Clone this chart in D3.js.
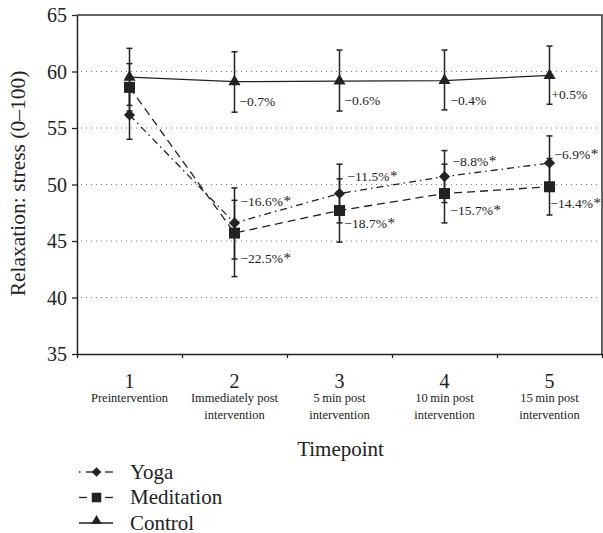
<!DOCTYPE html>
<html lang="en">
<head>
    <meta charset="UTF-8">
    <title>Relaxation: stress by timepoint</title>
    <script src="https://d3js.org/d3.v7.min.js"></script>
    <style>
        body { margin: 0; background: #fff; }
        text { font-family: "Liberation Serif", "DejaVu Serif", serif; fill: #222; }
    </style>
</head>
<body>
    <svg id="chart" width="603" height="533"></svg>

    <script>
        // Datos
        const timepoints = ["1", "2", "3", "4", "5"];
        const timepointNames = [
            ["Preintervention"],
            ["Immediately post", "intervention"],
            ["5\u2009min post", "intervention"],
            ["10\u2009min post", "intervention"],
            ["15\u2009min post", "intervention"]
        ];
        const yTicks = [35, 40, 45, 50, 55, 60, 65];

        const yoga = [56.15, 46.6, 49.2, 50.7, 51.9];
        const yogaLow = [54.0, 43.4, 46.6, 48.4, 49.5];
        const yogaHigh = [58.3, 49.7, 51.8, 53.0, 54.3];
        const yogaChange = ["", "\u221216.6%", "\u221211.5%", "\u22128.8%", "\u22126.9%"];

        const meditation = [58.6, 45.7, 47.7, 49.2, 49.8];
        const meditationLow = [56.5, 41.85, 44.9, 46.6, 47.3];
        const meditationHigh = [60.7, 48.6, 50.5, 51.8, 52.3];
        const meditationChange = ["", "\u221222.5%", "\u221218.7%", "\u221215.7%", "\u221214.4%"];

        const control = [59.5, 59.1, 59.15, 59.2, 59.65];
        const controlLow = [57.0, 56.4, 56.5, 56.6, 57.1];
        const controlHigh = [62.05, 61.75, 61.9, 61.9, 62.25];
        const controlChange = ["", "\u22120.7%", "\u22120.6%", "\u22120.4%", "+0.5%"];

        const margin = {top: 15, right: 1, bottom: 179, left: 77};
        const width = 603 - margin.left - margin.right;
        const height = 533 - margin.top - margin.bottom;
        const ink = "#222";

        const svg = d3.select("#chart")
                      .append("g")
                      .attr("transform", `translate(${margin.left},${margin.top})`);

        // Escalas
        const x = d3.scaleBand().domain(timepoints).range([0, width]);
        const cx = d => x(d) + x.bandwidth() / 2;
        const xEdges = d3.scaleLinear().domain([0, timepoints.length]).range([0, width]);
        const y = d3.scaleLinear().domain([35, 65]).range([height, 0]);

        // Lineas punteadas de referencia
        svg.append("g")
           .selectAll("line")
           .data(yTicks.filter(t => t > 35 && t < 65))
           .join("line")
           .attr("x1", 4).attr("x2", width - 4)
           .attr("y1", d => y(d)).attr("y2", d => y(d))
           .attr("stroke", "#777")
           .attr("stroke-width", 1)
           .attr("stroke-dasharray", "1,4");

        // Marco
        svg.append("path")
           .attr("d", `M0,0H${width}V${height}`)
           .attr("fill", "none")
           .attr("stroke", "#333")
           .attr("stroke-width", 1.5);

        // Ejes
        const yAxis = svg.append("g")
           .call(d3.axisLeft(y).tickValues(yTicks).tickSize(5).tickPadding(5).tickSizeOuter(0));
        yAxis.selectAll("text").style("font-size", "20px").attr("dy", "0.34em");

        const xAxis = svg.append("g")
           .attr("transform", `translate(0,${height})`)
           .call(d3.axisBottom(xEdges).tickValues(d3.range(timepoints.length + 1)).tickFormat("").tickSize(4).tickSizeOuter(0));

        [yAxis, xAxis].forEach(a => {
            a.attr("font-family", null);
            a.select(".domain").attr("stroke", ink).attr("stroke-width", 1.5);
            a.selectAll(".tick line").attr("stroke", ink).attr("stroke-width", 1.3);
        });

        // Etiquetas de categorias
        const cat = svg.append("g").selectAll("g")
           .data(timepoints)
           .join("g")
           .attr("transform", (d, i) => `translate(${cx(d)},${height})`);
        cat.append("text")
           .attr("text-anchor", "middle")
           .attr("y", 34)
           .style("font-size", "20px")
           .text(d => d);
        cat.each(function(d, i) {
            d3.select(this).selectAll("text.sub")
              .data(timepointNames[i])
              .join("text")
              .attr("class", "sub")
              .attr("text-anchor", "middle")
              .attr("y", (t, j) => 48 + j * 16.5)
              .style("font-size", "12.5px")
              .text(t => t);
        });

        // Titulos de ejes
        svg.append("text")
           .attr("x", width / 2 + 1)
           .attr("y", height + 102)
           .attr("text-anchor", "middle")
           .style("font-size", "21px")
           .text("Timepoint");
        svg.append("text")
           .attr("transform", `translate(${-52},${height / 2 - 1}) rotate(-90)`)
           .attr("text-anchor", "middle")
           .style("font-size", "21.5px")
           .text("Relaxation: stress (0\u2013100)");

        const series = [
            {name: "Yoga", values: yoga, low: yogaLow, high: yogaHigh, change: yogaChange,
             dash: "7,4,1.5,4", symbol: d3.symbolSquare, size: 62, rotate: 45,
             labelDx: [0, 6, 8, 8, 5], labelDy: [0, -22, -17, -15, -9]},
            {name: "Meditation", values: meditation, low: meditationLow, high: meditationHigh, change: meditationChange,
             dash: "8,5", symbol: d3.symbolSquare, size: 121, rotate: 0,
             labelDx: [0, 6, 5, 6, 1], labelDy: [0, 25, 13, 17, 17]},
            {name: "Control", values: control, low: controlLow, high: controlHigh, change: controlChange,
             dash: null, symbol: d3.symbolTriangle, size: 64, rotate: 0,
             labelDx: [0, 5, 5, 6, 2], labelDy: [0, 20, 19, 20, 19]}
        ];

        const line = d3.line()
                       .x((d, i) => cx(timepoints[i]))
                       .y(d => y(d));

        // Lineas
        series.forEach(s => {
            svg.append("path")
               .datum(s.values)
               .attr("fill", "none")
               .attr("stroke", ink)
               .attr("stroke-width", 1.3)
               .attr("stroke-dasharray", s.dash)
               .attr("d", line);
        });

        // Barras de error
        series.forEach(s => {
            const g = svg.append("g").attr("stroke", ink).attr("stroke-width", 1.5);
            timepoints.forEach((t, i) => {
                const xx = cx(t);
                g.append("line").attr("x1", xx).attr("x2", xx)
                 .attr("y1", y(s.low[i])).attr("y2", y(s.high[i]));
                [s.low[i], s.high[i]].forEach(v => {
                    g.append("line").attr("x1", xx - 3).attr("x2", xx + 3)
                     .attr("y1", y(v)).attr("y2", y(v));
                });
            });
        });

        // Marcadores
        series.forEach(s => {
            svg.append("g").selectAll("path")
               .data(s.values)
               .join("path")
               .attr("transform", (d, i) => `translate(${cx(timepoints[i])},${y(d)}) rotate(${s.rotate})`)
               .attr("d", d3.symbol(s.symbol, s.size))
               .attr("fill", ink);
        });

        // Porcentajes de cambio
        series.forEach(s => {
            const lab = svg.append("g").selectAll("text")
               .data(s.change)
               .join("text")
               .attr("x", (d, i) => cx(timepoints[i]) + s.labelDx[i])
               .attr("y", (d, i) => y(s.values[i]) + s.labelDy[i])
               .attr("dy", "0.35em")
               .style("font-size", "13.5px")
               .text(d => d);
            if (s.name !== "Control") {
                lab.filter(d => d !== "")
                   .append("tspan")
                   .attr("dx", 0.5)
                   .style("font-size", "15px")
                   .text("*");
            }
        });

        // Leyenda
        const legend = svg.append("g")
           .attr("transform", `translate(0,${height})`);
        series.forEach((s, i) => {
            const gy = 118 + i * 25.5;
            const gl = legend.append("g").attr("transform", `translate(0,${gy})`);
            if (s.name === "Yoga") {
                gl.append("line").attr("x1", 2).attr("x2", 3.5).attr("stroke", ink).attr("stroke-width", 1.3);
                gl.append("line").attr("x1", 9).attr("x2", 20).attr("stroke", ink).attr("stroke-width", 1.3);
                gl.append("line").attr("x1", 28).attr("x2", 36).attr("stroke", ink).attr("stroke-width", 1.3);
            } else if (s.name === "Meditation") {
                gl.append("line").attr("x1", 2).attr("x2", 10).attr("stroke", ink).attr("stroke-width", 1.3);
                gl.append("line").attr("x1", 28).attr("x2", 36).attr("stroke", ink).attr("stroke-width", 1.3);
            } else {
                gl.append("line").attr("x1", 2).attr("x2", 36).attr("stroke", ink).attr("stroke-width", 1.3);
            }
            gl.append("path")
              .attr("transform", `translate(19.5,${s.name === "Control" ? -2 : 0}) rotate(${s.rotate})`)
              .attr("d", d3.symbol(s.symbol, s.size * 0.75))
              .attr("fill", ink);
            gl.append("text")
              .attr("x", 53)
              .attr("y", 6.5)
              .style("font-size", "21px")
              .text(s.name);
        });
    </script>
</body>
</html>
